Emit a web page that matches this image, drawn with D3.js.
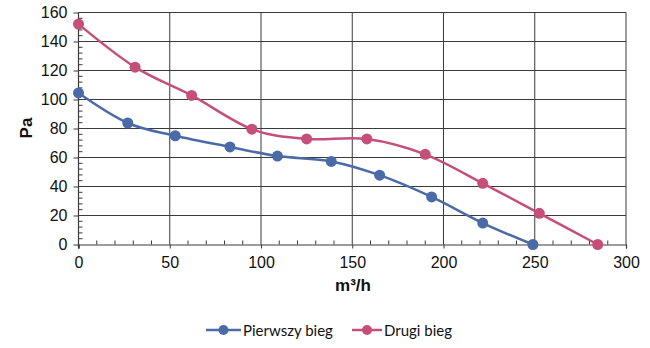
<!DOCTYPE html>
<html>
<head>
<meta charset="utf-8">
<script src="https://cdn.jsdelivr.net/npm/d3@7"></script>
<style>
  html, body { margin: 0; padding: 0; background: #fff; }
  svg { display: block; }
</style>
</head>
<body>
<svg id="chart" width="650" height="348"></svg>
<script>
// Fan performance curves: pressure (Pa) versus airflow (m³/h) for two speeds
const seriesNames = ["Pierwszy bieg", "Drugi bieg"];
const seriesColors = ["#4a6ba8", "#c64f7a"];

const flowFirst = [0, 27, 53, 83, 109, 138.5, 165, 193.5, 221.5, 249];
const pressureFirst = [104.5, 83.8, 75, 67.3, 61, 57.3, 47.8, 32.8, 14.8, 0];

const flowSecond = [0, 31, 62, 95, 125, 158, 190, 221.5, 252.5, 284.5];
const pressureSecond = [152, 122.3, 102.8, 79.5, 72.8, 72.8, 62.2, 42.2, 21.5, 0];

const xTicks = [0, 50, 100, 150, 200, 250, 300];
const yTicks = [0, 20, 40, 60, 80, 100, 120, 140, 160];
const xTitle = "m³/h";
const yTitle = "Pa";

const svg = d3.select("#chart");
const x = d3.scaleLinear().domain([0, 300]).range([78.5, 626]);
const y = d3.scaleLinear().domain([0, 160]).range([244.5, 12.5]);

const gridColor = "#3a3a3a";
const font = "'Liberation Sans', Arial, sans-serif";

// Gridlines
const grid = svg.append("g");
grid.selectAll("line.h").data(yTicks.filter(d => d > 0)).join("line")
  .attr("x1", x(0)).attr("x2", x(300))
  .attr("y1", d => y(d)).attr("y2", d => y(d))
  .attr("stroke", gridColor).attr("stroke-width", 1);
grid.selectAll("line.v").data(xTicks.filter(d => d > 0)).join("line")
  .attr("x1", d => x(d)).attr("x2", d => x(d))
  .attr("y1", y(160)).attr("y2", y(0))
  .attr("stroke", gridColor).attr("stroke-width", 1);

// Minor ticks (inside the plot)
const yMinor = d3.range(0, 161, 4).filter(d => d % 20 !== 0);
svg.append("g").selectAll("line").data(yMinor).join("line")
  .attr("x1", x(0)).attr("x2", x(0) + 4)
  .attr("y1", d => y(d)).attr("y2", d => y(d))
  .attr("stroke", gridColor).attr("stroke-width", 1);
const xMinor = d3.range(0, 301, 10).filter(d => d % 50 !== 0);
svg.append("g").selectAll("line").data(xMinor).join("line")
  .attr("x1", d => x(d)).attr("x2", d => x(d))
  .attr("y1", y(0)).attr("y2", y(0) - 4)
  .attr("stroke", gridColor).attr("stroke-width", 1);

// Axes
const yAxis = d3.axisLeft(y).tickValues(yTicks).tickSize(5).tickPadding(6).tickFormat(d3.format("d"));
const xAxis = d3.axisBottom(x).tickValues(xTicks).tickSize(4).tickPadding(8).tickFormat(d3.format("d"));

const gy = svg.append("g").attr("transform", `translate(${x(0)},0)`).call(yAxis);
const gx = svg.append("g").attr("transform", `translate(0,${y(0)})`).call(xAxis);
[gx, gy].forEach(g => {
  g.select(".domain").attr("stroke", gridColor).attr("stroke-width", 1.2);
  g.selectAll(".tick line").attr("stroke", gridColor);
  g.selectAll(".tick text").attr("fill", "#111").style("font-family", font).style("font-size", "16px");
});
gy.select(".domain").attr("d", `M0,${y(160)}V${y(0) + 4}`);

// Axis titles
svg.append("text").attr("x", 353).attr("y", 291).attr("text-anchor", "middle")
  .style("font-family", font).style("font-size", "17px").style("font-weight", "bold")
  .attr("fill", "#111").text(xTitle);
svg.append("text").attr("transform", "translate(32,128) rotate(-90)").attr("text-anchor", "middle")
  .style("font-family", font).style("font-size", "17px").style("font-weight", "bold")
  .attr("fill", "#111").text(yTitle);

// Series
const series = [
  { name: seriesNames[0], color: seriesColors[0], xs: flowFirst, ys: pressureFirst },
  { name: seriesNames[1], color: seriesColors[1], xs: flowSecond, ys: pressureSecond }
];
const line = d3.line().x(d => x(d[0])).y(d => y(d[1])).curve(d3.curveCardinal.tension(0));

series.forEach(s => {
  const pts = s.xs.map((v, i) => [v, s.ys[i]]);
  svg.append("path").datum(pts).attr("d", line)
    .attr("fill", "none").attr("stroke", s.color).attr("stroke-width", 2.5);
  svg.append("g").selectAll("circle").data(pts).join("circle")
    .attr("cx", d => x(d[0])).attr("cy", d => y(d[1])).attr("r", 5.5)
    .attr("fill", s.color);
});

// Legend
const legendFont = "Lato, 'Open Sans', sans-serif";
const legendItems = [
  { x0: 206, x1: 241, tx: 243 },
  { x0: 352, x1: 382, tx: 384 }
];
series.forEach((s, i) => {
  const L = legendItems[i];
  const g = svg.append("g");
  g.append("line").attr("x1", L.x0).attr("x2", L.x1).attr("y1", 330).attr("y2", 330)
    .attr("stroke", s.color).attr("stroke-width", 2.5);
  g.append("circle").attr("cx", (L.x0 + L.x1) / 2).attr("cy", 330).attr("r", 5).attr("fill", s.color);
  g.append("text").attr("x", L.tx).attr("y", 336).style("font-family", legendFont)
    .style("font-size", "15px").attr("fill", "#111").text(s.name);
});
</script>
</body>
</html>
